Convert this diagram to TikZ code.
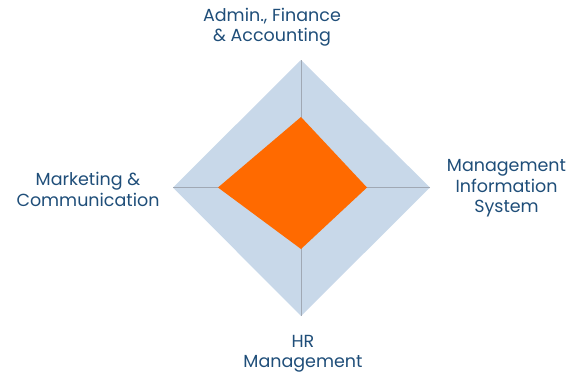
\documentclass[tikz,border=0pt]{standalone}
\usepackage{fontspec}
\setmainfont{Poppins}
\definecolor{txt}{HTML}{1F4E79}
\definecolor{band}{HTML}{C8D8E9}
\definecolor{core}{HTML}{FF6A00}
\definecolor{axis}{HTML}{A0A8B4}
\begin{document}
\begin{tikzpicture}[x=1pt,y=-1pt,
  lbl/.style={text=txt,font=\fontsize{17.5}{20.5}\selectfont,align=center,inner sep=0pt}]
\useasboundingbox (0,0) rectangle (574,375);
\coordinate (OT) at (301,60);
\coordinate (OR) at (430,187.5);
\coordinate (OB) at (301,316);
\coordinate (OL) at (173,187.5);
\coordinate (IT) at (301,117);
\coordinate (IR) at (367,187.5);
\coordinate (IB) at (301,249);
\coordinate (IL) at (218,187.5);
\fill[band] (OT) -- (OR) -- (OB) -- (OL) -- cycle;
\draw[axis,line width=1pt] (OT) -- (OB) (OL) -- (OR);
\fill[core] (IT) -- (IR) -- (IB) -- (IL) -- cycle;
\node[lbl] (top) at (272,27) {Admin., Finance\\\& Accounting};
\node[lbl] (left) at (88,189.5) {Marketing \&\\Communication};
\node[lbl] (right) at (506.5,188.5) {Management\\Information\\System};
\node[lbl] (bottom) at (303,354) {HR\\Management};
\end{tikzpicture}
\end{document}
